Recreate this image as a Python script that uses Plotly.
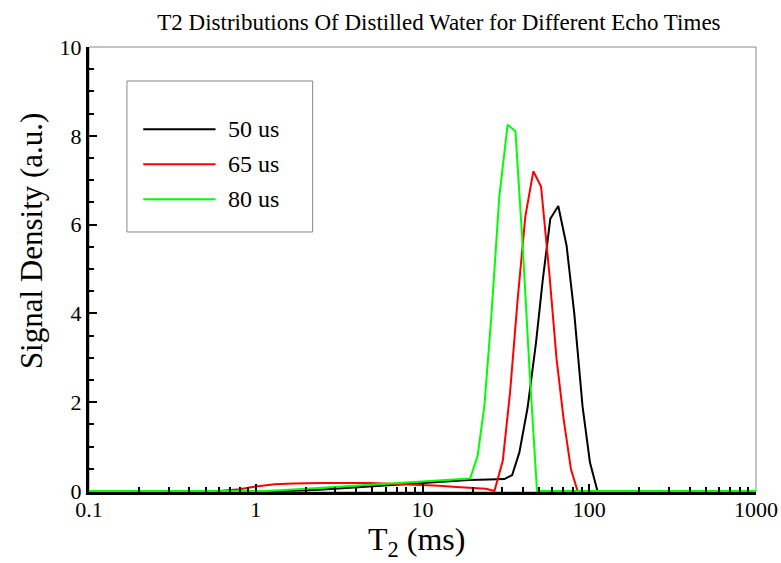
import plotly.graph_objects as go

# T2 relaxation times (ms) and signal density (a.u.) for each echo time
t2_50us = [0.1, 1.5, 2.4, 3.5, 4.8, 7, 10, 14, 19, 25, 31, 34.5, 38.1, 42.7, 47.9,
           52.5, 58.4, 65.2, 73.1, 81.3, 91.2, 101, 112, 1000]
sig_50us = [0, 0, 0.03, 0.07, 0.10, 0.14, 0.18, 0.21, 0.25, 0.26, 0.27, 0.36, 0.87,
            1.88, 3.33, 4.72, 6.13, 6.42, 5.53, 4.0, 1.9, 0.64, 0.0, 0]

t2_65us = [0.1, 0.6, 0.8, 1.0, 1.3, 1.7, 2.5, 3.5, 4.8, 7, 10, 12.6, 16, 20, 24, 27,
           30.3, 33.5, 37.2, 41.4, 46.2, 51.4, 57.6, 63.7, 70.2, 77.7, 85.1, 1000]
sig_65us = [0, 0, 0.04, 0.10, 0.15, 0.17, 0.18, 0.18, 0.18, 0.16, 0.14, 0.12, 0.09,
            0.06, 0.05, 0.0, 0.68, 2.22, 4.31, 6.19, 7.2, 6.86, 4.91, 2.97, 1.62, 0.49,
            0.0, 0]

t2_80us = [0.1, 1.15, 2, 3, 4.8, 7, 10, 14, 19.3, 21.4, 23.5, 25.8, 28.9, 32.4, 36.1,
           39.9, 43.7, 48.6, 1000]
sig_80us = [0, 0, 0.05, 0.09, 0.13, 0.17, 0.20, 0.24, 0.28, 0.79, 1.92, 3.87, 6.64,
            8.25, 8.10, 5.51, 2.82, 0.0, 0]

series_names = ["50 us", "65 us", "80 us"]
series_colors = ["#000000", "#ff0000", "#00ff00"]

x_tick_vals = [0.1, 1, 10, 100, 1000]
x_tick_text = ["0.1", "1", "10", "100", "1000"]
x_minor_vals = [m * 10 ** e for e in range(-1, 3) for m in range(2, 10)]

FONT = "Liberation Serif, Times New Roman, serif"

fig = go.Figure()
for name, xs, ys, col in zip(series_names,
                             [t2_50us, t2_65us, t2_80us],
                             [sig_50us, sig_65us, sig_80us],
                             series_colors):
    fig.add_trace(go.Scatter(x=xs, y=ys, mode="lines", name=name,
                             line=dict(color=col, width=2), showlegend=False))

fig.update_layout(
    width=781, height=563,
    margin=dict(l=89, r=25, t=47, b=71),
    paper_bgcolor="white", plot_bgcolor="white",
    font=dict(family=FONT, color="black", size=20),
    title=dict(text="T2 Distributions Of Distilled Water for Different Echo Times",
               x=0.562, xanchor="center", y=0.961, yanchor="middle",
               font=dict(family=FONT, size=23, color="black")),
)

fig.update_xaxes(
    type="log", range=[-1, 3], automargin=False,
    tickmode="array", tickvals=x_tick_vals, ticktext=x_tick_text,
    ticks="inside", ticklen=8, tickwidth=2, tickcolor="black",
    ticklabelstandoff=-4,
    minor=dict(tickmode="array", tickvals=x_minor_vals, ticks="inside",
               ticklen=5, tickwidth=2, tickcolor="black", showgrid=False),
    showgrid=False, zeroline=False,
    showline=True, linecolor="black", linewidth=3,
    tickfont=dict(family=FONT, size=22),
)
fig.update_yaxes(
    range=[-0.022, 10], automargin=False,
    tickmode="linear", tick0=0, dtick=2,
    ticks="inside", ticklen=8, tickwidth=2, tickcolor="black",
    minor=dict(dtick=0.5, tick0=0, ticks="inside", ticklen=5, tickwidth=2,
               tickcolor="black", showgrid=False),
    showgrid=False, zeroline=False,
    showline=True, linecolor="black", linewidth=3,
    tickfont=dict(family=FONT, size=22),
)

shapes = [
    # thin frame around the plot area (top and right sides)
    dict(type="rect", xref="paper", yref="paper", x0=0, x1=1, y0=0, y1=1,
         line=dict(color="#888888", width=1), layer="below"),
    # legend box
    dict(type="rect", xref="paper", yref="paper", x0=0.0569, x1=0.3353,
         y0=0.5843, y1=0.9236, line=dict(color="#888888", width=1),
         fillcolor="white"),
]
annotations = []
legend_rows = [0.8151, 0.7364, 0.6578]
for name, col, yy in zip(series_names, series_colors, legend_rows):
    shapes.append(dict(type="line", xref="paper", yref="paper", x0=0.0813,
                       x1=0.1897, y0=yy, y1=yy, line=dict(color=col, width=2)))
    annotations.append(dict(text=name, xref="paper", yref="paper", x=0.2061,
                            y=yy, xanchor="left", yanchor="middle",
                            showarrow=False, font=dict(family=FONT, size=24)))

annotations.append(dict(text="Signal Density (a.u.)", xref="paper", yref="paper",
                        x=-0.0868, y=0.564, textangle=-90, xanchor="center",
                        yanchor="middle", showarrow=False,
                        font=dict(family=FONT, size=31)))
annotations.append(dict(text="T<sub>2</sub> (ms)", xref="paper", yref="paper",
                        x=0.491, y=-0.112, xanchor="center", yanchor="middle",
                        showarrow=False, font=dict(family=FONT, size=32)))

fig.update_layout(shapes=shapes, annotations=annotations)

fig.write_html("out.html")
